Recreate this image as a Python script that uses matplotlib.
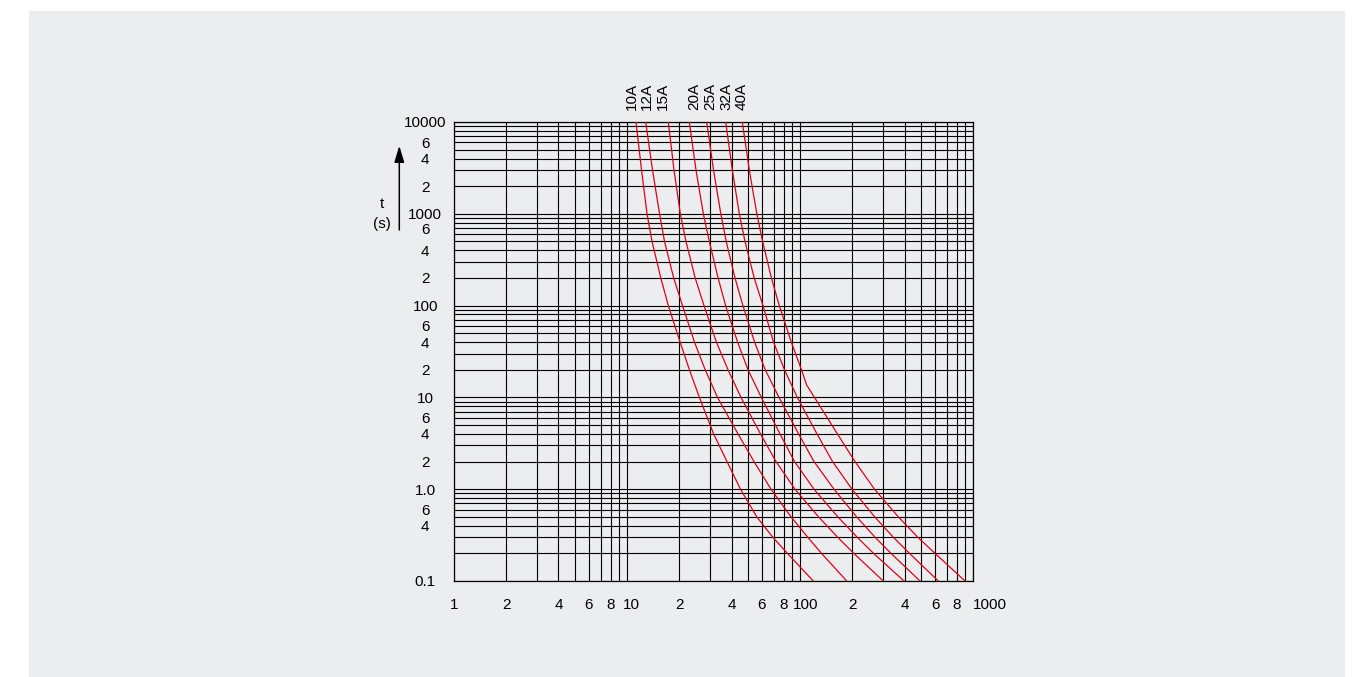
import matplotlib
matplotlib.use('Agg')
import matplotlib.pyplot as plt
import numpy as np
from matplotlib.patches import Rectangle
from matplotlib.ticker import LogLocator, NullFormatter, FixedLocator, FixedFormatter
from matplotlib.transforms import ScaledTranslation

plt.rcParams['font.family'] = ['Liberation Sans', 'DejaVu Sans']

# ---------------- data (time-current characteristics) ----------------
ratings = ['10A', '12A', '15A', '20A', '25A', '32A', '40A']

t_levels = [10000, 3000, 1000, 500, 200, 100, 40, 20, 10, 4, 2, 1, 0.5, 0.3, 0.2, 0.1]

I_10A = [11.22, 12.08, 12.99, 13.89, 15.61, 17.25, 20.18, 22.84, 26.09, 31.52, 37.67, 45.08, 55.95, 69.30, 84.17, 118.8]
I_12A = [12.77, 13.98, 15.35, 16.40, 18.53, 20.84, 24.44, 28.18, 33.20, 43.61, 53.96, 67.66, 88.30, 110.3, 132.5, 185.3]
I_15A = [17.25, 18.61, 20.24, 21.83, 24.67, 27.74, 32.72, 38.17, 45.39, 58.84, 72.31, 93.11, 127.3, 164.1, 203.6, 301.5]
I_20A = [22.81, 24.94, 27.49, 29.77, 33.46, 36.98, 43.38, 49.83, 59.48, 76.27, 92.50, 119.9, 164.6, 213.0, 264.7, 397.2]
I_25A = [28.75, 31.48, 34.69, 37.27, 41.91, 46.56, 54.39, 62.64, 75.25, 97.68, 119.9, 156.5, 211.3, 270.1, 334.1, 491.4]
I_32A = [37.03, 40.43, 44.38, 47.86, 54.10, 60.83, 69.96, 80.96, 96.00, 124.8, 153.4, 198.8, 268.9, 344.4, 427.2, 626.9]

t_40A = [10000, 3000, 1000, 500, 200, 100, 40, 20, 13.6, 10, 4, 2, 1, 0.5, 0.3, 0.2, 0.1]
I_40A = [46.17, 50.69, 56.01, 60.51, 68.02, 75.55, 88.63, 101.5, 108.8, 120.7, 163.7, 206.9, 268.2, 368.1, 476.6, 599.9, 894.4]

xtick_values = [1, 2, 4, 6, 8, 10, 20, 40, 60, 80, 100, 200, 400, 600, 800, 1000]
xtick_labels = ['1', '2', '4', '6', '8', '10', '2', '4', '6', '8', '100', '2', '4', '6', '8', '1000']
ytick_values = [0.1, 0.4, 0.6, 1, 2, 4, 6, 10, 20, 40, 60, 100, 200, 400, 600,
                1000, 2000, 4000, 6000, 10000]
ytick_labels = ['0.1', '4', '6', '1.0', '2', '4', '6', '10', '2', '4', '6', '100', '2', '4', '6',
                '1000', '2', '4', '6', '10000']

curves = [(I_10A, t_levels), (I_12A, t_levels), (I_15A, t_levels), (I_20A, t_levels),
          (I_25A, t_levels), (I_32A, t_levels), (I_40A, t_40A)]

# ---------------- figure ----------------
W, H = 1354, 677
fig = plt.figure(figsize=(W / 100, H / 100), dpi=100)
fig.patch.set_facecolor('white')
fig.add_artist(Rectangle((29 / W, 0), (1345 - 29) / W, (677 - 11) / H,
                         transform=fig.transFigure, facecolor='#ECEDEF',
                         edgecolor='none', zorder=0))

ax = fig.add_axes([454.3 / W, 1 - 581 / H, (973.4 - 454.3) / W, (581 - 122) / H])
ax.set_facecolor('none')
ax.set_xscale('log')
ax.set_yscale('log')
ax.set_xlim(1, 1000)
ax.set_ylim(0.1, 10000)

for axis in (ax.xaxis, ax.yaxis):
    axis.set_minor_locator(LogLocator(base=10, subs=np.arange(2, 10), numticks=100))
    axis.set_minor_formatter(NullFormatter())

ax.xaxis.set_major_locator(FixedLocator(xtick_values))
ax.xaxis.set_major_formatter(FixedFormatter(xtick_labels))
ax.yaxis.set_major_locator(FixedLocator(ytick_values))
ax.yaxis.set_major_formatter(FixedFormatter(ytick_labels))

ax.grid(which='both', color='black', lw=0.8)
ax.tick_params(which='both', length=0)
ax.tick_params(axis='x', pad=12, labelsize=11)
ax.tick_params(axis='y', pad=21, labelsize=11)
for s in ax.spines.values():
    s.set_color('black')
    s.set_linewidth(0.9)

fig.canvas.draw()
for lab in ax.get_yticklabels():
    lab.set_horizontalalignment('center')
# small label shifts as in the reference
xshift_px = {'10': 4.5, '100': 5.0, '1000': 16.0}
for lab in ax.get_xticklabels():
    dx = xshift_px.get(lab.get_text(), 0)
    if dx:
        lab.set_transform(lab.get_transform() + ScaledTranslation(dx / 100, 0, fig.dpi_scale_trans))
for lab, v in zip(ax.get_yticklabels(), ytick_values):
    if v == 600:
        lab.set_transform(lab.get_transform() + ScaledTranslation(0, 6 / 100, fig.dpi_scale_trans))

for (I, t) in curves:
    ax.plot(I, t, color='#E0001B', lw=0.9, zorder=3, solid_joinstyle='round')

label_dx_px = [-3.8, 0.8, -5.4, 4.7, 3.2, 0.4, -0.6]
for name, (I, t), dx in zip(ratings, curves, label_dx_px):
    ax.annotate(name, xy=(I[0], 10000), xytext=(dx * 0.72, 8.6), textcoords='offset points',
                rotation=90, ha='center', va='bottom', fontsize=11, annotation_clip=False)

# y axis label and arrow
fig.text(381.7 / W, 1 - 204 / H, 't', ha='center', va='center', fontsize=11)
fig.text(382 / W, 1 - 224 / H, '(s)', ha='center', va='center', fontsize=11)
ax.annotate('', xy=(399.3, H - 145.7), xycoords='figure pixels',
            xytext=(399.3, H - 230), textcoords='figure pixels',
            arrowprops=dict(arrowstyle='-|>,head_length=1.0,head_width=0.3',
                            mutation_scale=10, lw=1.1, color='black',
                            shrinkA=0, shrinkB=0))

fig.savefig('out.png', dpi=100, facecolor=fig.get_facecolor())
